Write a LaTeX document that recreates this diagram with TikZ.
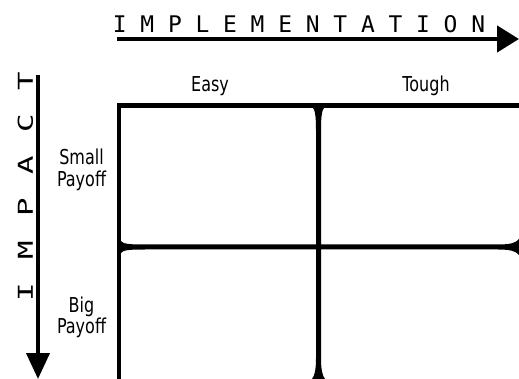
\documentclass[tikz,border=0pt]{standalone}
\usepackage{fontspec}
\setmainfont{DejaVu Sans}
\newfontfamily\axisfont{DejaVu Sans Mono}
\usetikzlibrary{arrows.meta}

% narrow labels set in a condensed form of the main face
\newcommand{\narrow}[1]{\scalebox{0.78}[1]{#1}}

\begin{document}
\begin{tikzpicture}[x=1pt,y=-1pt,
  axis/.style={line width=4.5pt},
  gridline/.style={line width=4.5pt, miter limit=10},
  colhead/.style={inner sep=0pt, anchor=base, font=\fontsize{20.5}{20}\selectfont},
  rowhead/.style={inner sep=0pt, anchor=base, font=\fontsize{20.5}{20}\selectfont},
  axistitle/.style={inner sep=0pt}]
\useasboundingbox (0,0) rectangle (519,379);
\fill[white] (0,0) rectangle (519,379);

% horizontal axis: implementation effort
\coordinate (hstart) at (117,39);
\coordinate (hend) at (519,39);
\draw[axis, -{Triangle[length=22pt,width=26pt]}] (hstart) -- (hend);
\node[axistitle, anchor=base] (impl) at (299,32.5)
  {\axisfont\fontsize{22.9}{24}\selectfont I M P L E M E N T A T I O N};

% vertical axis: impact
\coordinate (vstart) at (38,75);
\coordinate (vend) at (38,379);
\draw[line width=4pt, -{Triangle[length=26pt,width=23pt]}] (vstart) -- (vend);
\node[axistitle, rotate=90] (impact) at (25.5,186.5)
  {\scalebox{1.5}[1]{\axisfont\fontsize{20.5}{22}\selectfont\spaceskip=15.8pt\relax I M P A C T}};

% outer frame of the matrix (open towards the right and bottom)
\draw[gridline] (519,105.5) -- (119,105.5) -- (119,379);

% middle column divider with flared ends
\fill (312.5,107) .. controls (315,110) and (316,116) .. (316,130)
  -- (316,358) .. controls (316,370) and (314.5,376) .. (312,379)
  -- (325,379) .. controls (322.5,376) and (321,370) .. (321,358)
  -- (321,130) .. controls (321,116) and (322,110) .. (324.5,107) -- cycle;

% middle row divider with flared ends
\fill (120.5,240.5) .. controls (123,244) and (128,244.5) .. (145,244.5)
  -- (498,244.5) .. controls (510,244.5) and (516,243) .. (519,239)
  -- (519,255) .. controls (516,251) and (510,249.5) .. (498,249.5)
  -- (145,249.5) .. controls (128,249.5) and (123,250) .. (120.5,253.5) -- cycle;

% column headings
\node[colhead] (easy) at (210,92) {\narrow{Easy}};
\node[colhead] (tough) at (426,92) {\narrow{Tough}};

% row headings
\node[rowhead] (small) at (81.5,165)
  {\narrow{\begin{tabular}[t]{@{}c@{}}Small\\Payoff\end{tabular}}};
\node[rowhead] (big) at (81.5,312)
  {\narrow{\begin{tabular}[t]{@{}c@{}}Big\\Payoff\end{tabular}}};
\end{tikzpicture}
\end{document}
